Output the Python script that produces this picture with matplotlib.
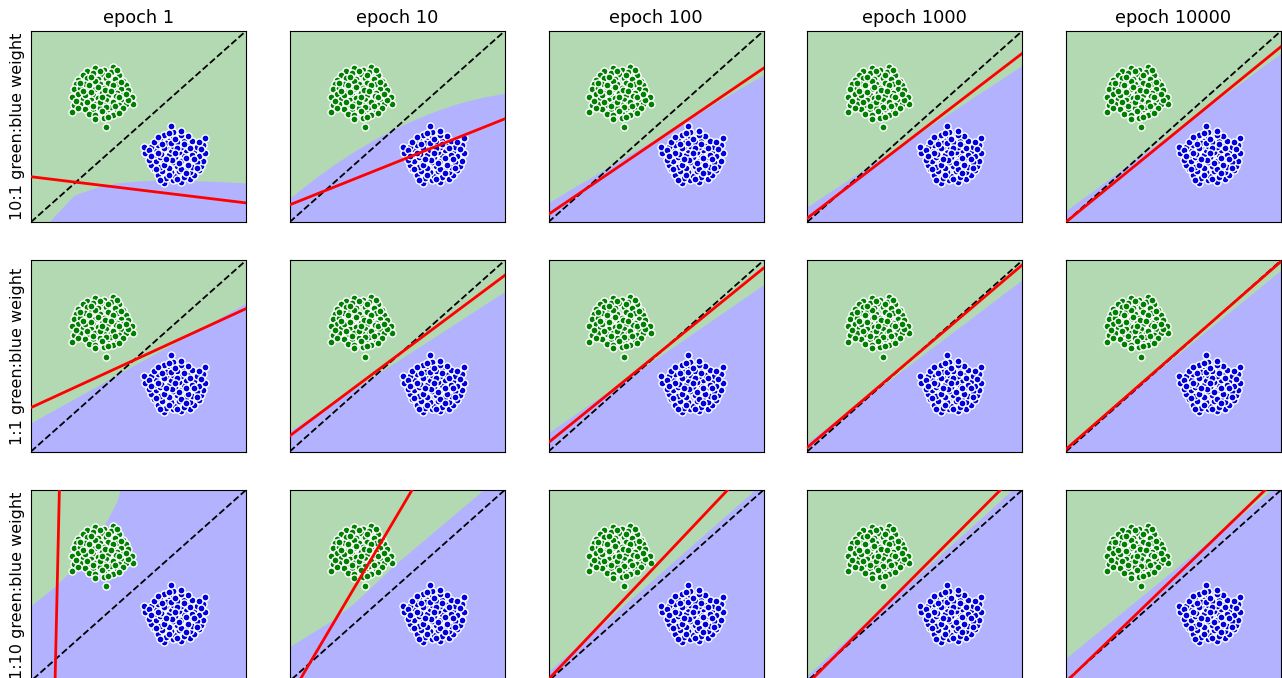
import numpy as np
import matplotlib
matplotlib.use("Agg")
import matplotlib.pyplot as plt

# 제목 / 라벨
epochs = ["epoch 1", "epoch 10", "epoch 100", "epoch 1000", "epoch 10000"]
weights = ["10:1 green:blue weight", "1:1 green:blue weight", "1:10 green:blue weight"]

# 점 데이터 (모든 패널 공통)
green_x = [0.30, 0.38, 0.34, 0.26, 0.24, 0.29, 0.33, 0.37, 0.41, 0.22, 0.26, 0.31, 0.35, 0.39, 0.43,
           0.21, 0.25, 0.28, 0.32, 0.36, 0.40, 0.44, 0.20, 0.23, 0.27, 0.30, 0.34, 0.38, 0.42, 0.45,
           0.22, 0.26, 0.29, 0.33, 0.36, 0.40, 0.43, 0.19, 0.24, 0.28, 0.31, 0.35, 0.39, 0.42, 0.47,
           0.20, 0.23, 0.27, 0.30, 0.34, 0.37, 0.41, 0.44, 0.475, 0.19, 0.25, 0.29, 0.32, 0.36, 0.40,
           0.43, 0.27, 0.30, 0.34, 0.38, 0.41, 0.30, 0.34, 0.35, 0.25, 0.345, 0.30, 0.395, 0.32, 0.37,
           0.28, 0.32, 0.36, 0.27, 0.31, 0.38, 0.42, 0.24, 0.28, 0.37, 0.41, 0.26, 0.33, 0.38, 0.29,
           0.35, 0.39, 0.22, 0.33, 0.36, 0.45, 0.23, 0.40, 0.44, 0.21]
green_y = [0.805, 0.81, 0.795, 0.79, 0.77, 0.78, 0.775, 0.785, 0.77, 0.745, 0.755, 0.75, 0.755, 0.75, 0.74,
           0.72, 0.725, 0.73, 0.72, 0.73, 0.725, 0.715, 0.695, 0.70, 0.70, 0.695, 0.70, 0.70, 0.695, 0.69,
           0.67, 0.675, 0.665, 0.675, 0.665, 0.675, 0.665, 0.655, 0.645, 0.64, 0.65, 0.64, 0.645, 0.635, 0.655,
           0.61, 0.62, 0.615, 0.62, 0.615, 0.62, 0.61, 0.62, 0.62, 0.575, 0.59, 0.59, 0.595, 0.59, 0.585,
           0.595, 0.565, 0.56, 0.565, 0.56, 0.57, 0.54, 0.545, 0.495, 0.665, 0.69, 0.74, 0.66, 0.63, 0.60,
           0.76, 0.79, 0.77, 0.715, 0.705, 0.715, 0.735, 0.685, 0.68, 0.685, 0.655, 0.63, 0.655, 0.63, 0.605,
           0.60, 0.605, 0.595, 0.58, 0.55, 0.64, 0.73, 0.795, 0.67, 0.635]
blue_x = [0.70, 0.62, 0.66, 0.74, 0.76, 0.71, 0.67, 0.63, 0.59, 0.78, 0.74, 0.69, 0.65, 0.61, 0.57,
          0.79, 0.75, 0.72, 0.68, 0.64, 0.60, 0.56, 0.80, 0.77, 0.73, 0.70, 0.66, 0.62, 0.58, 0.55,
          0.78, 0.74, 0.71, 0.67, 0.64, 0.60, 0.57, 0.81, 0.76, 0.72, 0.69, 0.65, 0.61, 0.58, 0.53,
          0.80, 0.77, 0.73, 0.70, 0.66, 0.63, 0.59, 0.56, 0.525, 0.81, 0.75, 0.71, 0.68, 0.64, 0.60,
          0.57, 0.73, 0.70, 0.66, 0.62, 0.59, 0.70, 0.66, 0.65, 0.75, 0.655, 0.70, 0.605, 0.68, 0.63,
          0.72, 0.68, 0.64, 0.73, 0.69, 0.62, 0.58, 0.76, 0.72, 0.63, 0.59, 0.74, 0.67, 0.62, 0.71,
          0.65, 0.61, 0.78, 0.67, 0.64, 0.55, 0.77, 0.60, 0.56, 0.79]
blue_y = [0.21, 0.205, 0.22, 0.225, 0.245, 0.235, 0.24, 0.23, 0.245, 0.27, 0.26, 0.265, 0.26, 0.265, 0.275,
          0.295, 0.29, 0.285, 0.295, 0.285, 0.29, 0.30, 0.32, 0.315, 0.315, 0.32, 0.315, 0.315, 0.32, 0.325,
          0.345, 0.34, 0.35, 0.34, 0.35, 0.34, 0.35, 0.36, 0.37, 0.375, 0.365, 0.375, 0.37, 0.38, 0.36,
          0.405, 0.395, 0.40, 0.395, 0.40, 0.395, 0.405, 0.395, 0.395, 0.44, 0.425, 0.425, 0.42, 0.425, 0.43,
          0.42, 0.45, 0.455, 0.45, 0.455, 0.445, 0.475, 0.47, 0.505, 0.35, 0.325, 0.275, 0.355, 0.385, 0.415,
          0.255, 0.225, 0.245, 0.30, 0.31, 0.30, 0.28, 0.33, 0.335, 0.33, 0.36, 0.385, 0.36, 0.385, 0.41,
          0.415, 0.41, 0.42, 0.435, 0.465, 0.375, 0.285, 0.22, 0.345, 0.38]

# 경계선 (x = 0, 0.1, ..., 1 에서의 y 값), 아래쪽이 파란 영역
grid_x = [0.0, 0.1, 0.2, 0.3, 0.4, 0.5, 0.6, 0.7, 0.8, 0.9, 1.0]
boundary = [
    [[-0.15, 0.02, 0.14, 0.18, 0.205, 0.215, 0.22, 0.22, 0.215, 0.21, 0.205],
     [0.124, 0.214, 0.296, 0.37, 0.436, 0.495, 0.546, 0.59, 0.626, 0.654, 0.674],
     [0.10, 0.17, 0.235, 0.30, 0.37, 0.435, 0.505, 0.57, 0.64, 0.705, 0.77],
     [0.08, 0.154, 0.228, 0.302, 0.376, 0.45, 0.524, 0.598, 0.672, 0.746, 0.82],
     [0.06, 0.142, 0.225, 0.307, 0.389, 0.472, 0.554, 0.636, 0.718, 0.801, 0.883]],
    [[0.15, 0.213, 0.275, 0.338, 0.401, 0.464, 0.526, 0.589, 0.652, 0.714, 0.777],
     [0.108, 0.181, 0.254, 0.327, 0.40, 0.473, 0.546, 0.619, 0.692, 0.765, 0.838],
     [0.099, 0.176, 0.254, 0.331, 0.409, 0.486, 0.563, 0.641, 0.718, 0.796, 0.873],
     [0.047, 0.132, 0.218, 0.303, 0.388, 0.474, 0.559, 0.644, 0.729, 0.815, 0.90],
     [0.03, 0.122, 0.214, 0.306, 0.398, 0.49, 0.582, 0.674, 0.766, 0.858, 0.95]],
    [[0.39, 0.48, 0.585, 0.717, 0.934, 1.3, 1.7, 2.1, 2.5, 2.9, 3.3],
     [0.18, 0.25, 0.32, 0.41, 0.515, 0.62, 0.715, 0.81, 0.905, 1.0, 1.1],
     [0.05, 0.149, 0.248, 0.347, 0.446, 0.545, 0.644, 0.743, 0.842, 0.941, 1.04],
     [0.03, 0.132, 0.234, 0.335, 0.437, 0.539, 0.641, 0.743, 0.844, 0.946, 1.048],
     [0.12, 0.212, 0.304, 0.396, 0.488, 0.58, 0.672, 0.764, 0.856, 0.948, 1.04]],
]

# 빨간 선: y = b + m * x
red_b = [[0.237, 0.09, 0.04, 0.02, 0.0],
         [0.23, 0.082, 0.047, 0.021, 0.012],
         [-5.6, -0.084, 0.009, -0.016, -0.005]]
red_m = [[-0.137, 0.45, 0.765, 0.863, 0.918],
         [0.518, 0.84, 0.913, 0.956, 0.983],
         [50.0, 1.906, 1.19, 1.131, 1.085]]

W, H = 1282, 678
fig = plt.figure(figsize=(W / 100, H / 100), dpi=100)

for i in range(3):
    for j in range(5):
        left = 31 + 258.75 * j
        top = 31 + 229.5 * i
        ax = fig.add_axes([left / W, 1 - (top + 191) / H, 215 / W, 191 / H])
        ax.set_facecolor("#b2d9b2")
        ax.fill_between(grid_x, -1, boundary[i][j], color="#b2b2ff", lw=0)
        ax.plot([0, 1], [0, 1], "k--", lw=1.3)
        ax.scatter(green_x, green_y, s=26, c="green", edgecolors="white", linewidths=1.0, zorder=3)
        ax.scatter(blue_x, blue_y, s=26, c="#0000dd", edgecolors="white", linewidths=1.0, zorder=3)
        ax.axline((0, red_b[i][j]), slope=red_m[i][j], color="red", lw=2, zorder=4)
        ax.set_xlim(0, 1)
        ax.set_ylim(0, 1)
        ax.set_xticks([])
        ax.set_yticks([])
        if i == 0:
            ax.set_title(epochs[j], fontsize=12.8)
        if j == 0:
            ax.set_ylabel(weights[i], fontsize=11.5)

fig.savefig("out.png", dpi=100)
